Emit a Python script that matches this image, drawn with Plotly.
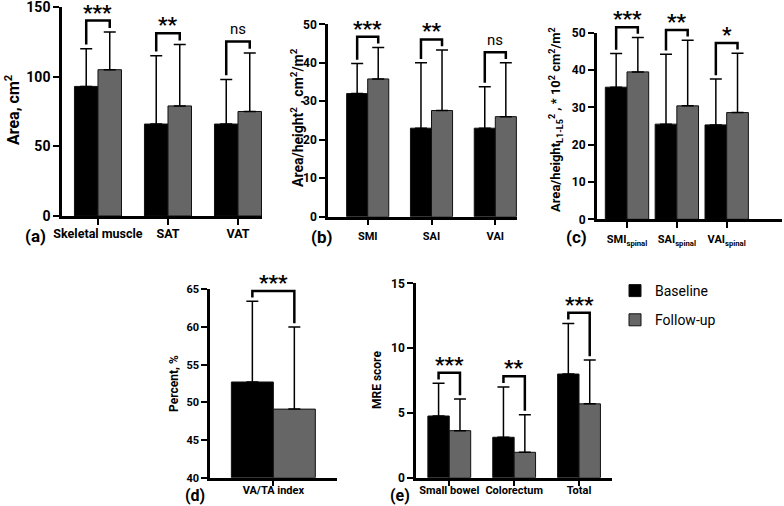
import plotly.graph_objects as go

# ---- data ----
groups = ['Baseline', 'Follow-up']

a_cats = ['Skeletal muscle', 'SAT', 'VAT']
a_base = [93, 66, 66]
a_base_sd = [27, 49, 32]
a_fu = [105, 79, 75]
a_fu_sd = [27, 44, 42]
a_sig = ['***', '**', 'ns']

b_cats = ['SMI', 'SAI', 'VAI']
b_base = [32, 23, 23]
b_base_sd = [7.8, 17, 10.8]
b_fu = [35.8, 27.6, 26]
b_fu_sd = [8.2, 15.7, 14]
b_sig = ['***', '**', 'ns']

c_cats = ['SMI<sub>spinal</sub>', 'SAI<sub>spinal</sub>', 'VAI<sub>spinal</sub>']
c_base = [35.4, 25.5, 25.3]
c_base_sd = [9, 18.7, 12.3]
c_fu = [39.5, 30.4, 28.6]
c_fu_sd = [9.2, 17.6, 15.9]
c_sig = ['***', '**', '*']

d_cats = ['VA/TA index']
d_base = [52.7]
d_base_sd = [10.7]
d_fu = [49.1]
d_fu_sd = [10.9]
d_sig = ['***']

e_cats = ['Small bowel', 'Colorectum', 'Total']
e_base = [4.76, 3.12, 8.0]
e_base_sd = [2.52, 3.88, 3.9]
e_fu = [3.63, 1.96, 5.7]
e_fu_sd = [2.44, 2.9, 3.38]
e_sig = ['***', '**', '***']

W, H = 784, 506
FONT = 'Roboto'
BLACK = '#000000'
GRAY = '#666666'


def dom_x(x0, x1):
    return [x0 / W, x1 / W]


def dom_y(top, bottom):
    return [1 - bottom / H, 1 - top / H]


panels = [
    dict(k='', cats=a_cats, base=a_base, bsd=a_base_sd, fu=a_fu, fsd=a_fu_sd, sig=a_sig,
         box=(62, 262, 7, 216), yr=[0, 150], dt=50, w=0.336, xr=[-0.514, 2.343],
         tf=14, cf=12.5, stand=-2),
    dict(k='2', cats=b_cats, base=b_base, bsd=b_base_sd, fu=b_fu, fsd=b_fu_sd, sig=b_sig,
         box=(328, 517, 24.3, 216.7), yr=[0, 50], dt=10, w=0.33, xr=[-0.622, 2.34],
         tf=12, cf=11, stand=1),
    dict(k='3', cats=c_cats, base=c_base, bsd=c_base_sd, fu=c_fu, fsd=c_fu_sd, sig=c_sig,
         box=(596.7, 782, 32.7, 219.3), yr=[0, 50], dt=10, w=0.435, xr=[-0.608, 3.11],
         tf=12, cf=11, stand=2),
    dict(k='4', cats=d_cats, base=d_base, bsd=d_base_sd, fu=d_fu, fsd=d_fu_sd, sig=d_sig,
         box=(210, 336.7, 289.3, 477.7), yr=[40, 65], dt=5, w=0.497, xr=[-0.75, 0.75],
         tf=11, cf=11, stand=-6),
    dict(k='5', cats=e_cats, base=e_base, bsd=e_base_sd, fu=e_fu, fsd=e_fu_sd, sig=e_sig,
         box=(416, 612.3, 283.3, 477.7), yr=[0, 15], dt=5, w=0.33, xr=[-0.513, 2.513],
         tf=12, cf=11, stand=-6),
]

fig = go.Figure()
shapes = []
annotations = []
layout = {}

for n, p in enumerate(panels):
    k = p['k']
    xs = list(range(len(p['cats'])))
    w = p['w']
    for gi, (vals, sd, col) in enumerate([(p['base'], p['bsd'], BLACK), (p['fu'], p['fsd'], GRAY)]):
        fig.add_trace(go.Bar(
            x=xs, y=[v - p['yr'][0] for v in vals], base=p['yr'][0],
            width=w, offset=-w if gi == 0 else 0,
            marker=dict(color=col, line=dict(color='#111111', width=1)),
            error_y=dict(type='data', symmetric=False, array=sd, arrayminus=[0] * len(sd),
                         color=BLACK, thickness=1.5, width=6),
            name=groups[gi], legendgroup=groups[gi], showlegend=(n == 0),
            xaxis='x' + k, yaxis='y' + k,
        ))
    x0, x1, yt, yb = p['box']
    layout['xaxis' + k] = dict(
        domain=dom_x(x0, x1), range=p['xr'], anchor='y' + k,
        tickvals=xs, ticktext=p['cats'], showline=True, linecolor=BLACK, linewidth=2.5,
        ticks='outside', ticklen=6, tickwidth=2, tickcolor=BLACK, showgrid=False, zeroline=False,
        tickfont=dict(family=FONT, size=p['cf'], color=BLACK, weight='bold'),
        ticklabelstandoff=p['stand'], ticklabeloverflow='allow',
    )
    layout['yaxis' + k] = dict(
        domain=dom_y(yt, yb), range=p['yr'], anchor='x' + k, dtick=p['dt'],
        showline=True, linecolor=BLACK, linewidth=2.5, ticks='outside', ticklen=6, tickwidth=2,
        tickcolor=BLACK, showgrid=False, zeroline=False, ticklabeloverflow='allow',
        tickfont=dict(family=FONT, size=p['tf'], color=BLACK, weight='bold'),
    )
    # significance brackets, placed from the error bar tops (domain units so they are not clipped)
    r0, r1 = p['yr']
    span = r1 - r0

    def frac(v):
        return (v - r0) / span

    for i, s in enumerate(p['sig']):
        t0 = p['base'][i] + p['bsd'][i]
        t1 = p['fu'][i] + p['fsd'][i]
        top = max(t0, t1) + 0.055 * span
        xl, xr = i - w / 2, i + w / 2
        shapes.append(dict(
            type='path', xref='x' + k, yref='y' + k + ' domain',
            path=(f'M {xl},{frac(t0 + 0.02 * span)} L {xl},{frac(top)} '
                  f'L {xr},{frac(top)} L {xr},{frac(t1 + 0.02 * span)}'),
            line=dict(color=BLACK, width=2.5),
        ))
        star = s != 'ns'
        annotations.append(dict(
            x=i, y=frac(top), xref='x' + k, yref='y' + k + ' domain', text=s, showarrow=False,
            yanchor='bottom', yshift=-6 if star else 1,
            font=dict(family=FONT, size=21 if star else 15, color=BLACK,
                      weight='bold' if star else 'normal'),
        ))

# y-axis titles
ytitles = [
    ('Area, cm<sup>2</sup>', 13, 110, 16),
    ('Area/height<sup>2</sup> , cm<sup>2</sup>/m<sup>2</sup>', 297, 118, 14),
    ('Area/height<sub>L1-L5</sub><sup>2</sup> , * 10<sup>2</sup> cm<sup>2</sup>/m<sup>2</sup>', 556, 120, 13),
    ('Percent, %', 174, 384, 12),
    ('MRE score', 377, 380, 12),
]
for txt, x, y, sz in ytitles:
    annotations.append(dict(
        x=x / W, y=1 - y / H, xref='paper', yref='paper', text=txt, textangle=-90,
        showarrow=False, xanchor='center', yanchor='middle',
        font=dict(family=FONT, size=sz, color=BLACK, weight='bold'),
    ))

# panel letters
letters = [('(a)', 35, 236, 17), ('(b)', 322, 237, 17), ('(c)', 576, 237, 17),
           ('(d)', 195, 495.5, 16), ('(e)', 400, 495.5, 16)]
for txt, x, y, sz in letters:
    annotations.append(dict(
        x=x / W, y=1 - y / H, xref='paper', yref='paper', text=txt, showarrow=False,
        xanchor='center', yanchor='middle',
        font=dict(family=FONT, size=sz, color=BLACK, weight='bold'),
    ))

layout.update(
    width=W, height=H, margin=dict(l=0, r=0, t=0, b=0, autoexpand=False),
    paper_bgcolor='white', plot_bgcolor='white',
    shapes=shapes, annotations=annotations,
    showlegend=True,
    legend=dict(x=615 / W, y=1 - 275 / H, xanchor='left', yanchor='top',
                font=dict(family=FONT, size=14, color=BLACK), tracegroupgap=8,
                bgcolor='rgba(0,0,0,0)'),
)
fig.update_layout(**layout)

# page body has a default 8px margin; drop it so the figure fills the window
fig.write_html('out.html', config={'displayModeBar': False},
               post_script="document.body.style.margin='0';")
